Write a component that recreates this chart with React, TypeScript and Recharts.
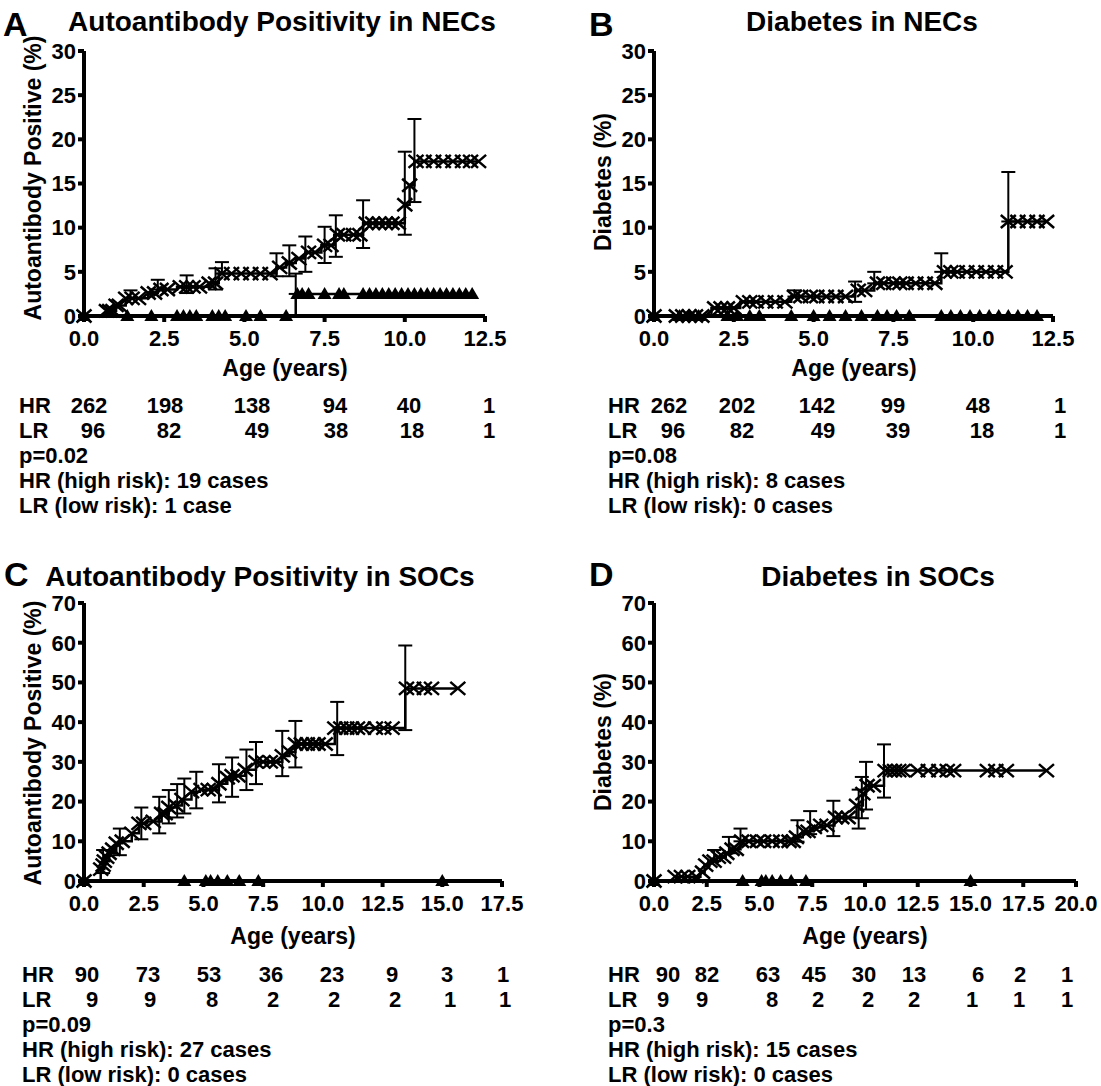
import React from 'react';
import { ComposedChart, Line, Scatter, XAxis, YAxis, ErrorBar } from 'recharts';

type P = [number, number];
type E = [number, number, number, number]; // x, y, lower bound, upper bound

// ---------- Panel A : Autoantibody Positivity in NECs ----------
const aXTicks = [0, 2.5, 5, 7.5, 10, 12.5];
const aYTicks = [0, 5, 10, 15, 20, 25, 30];
const aHrCurve: P[] = [[0,0],[0.7,0.6],[1.0,1.2],[1.3,2.0],[2.0,2.6],[2.3,3.0],[2.9,3.3],[3.9,3.7],[4.2,4.8],[6.0,5.5],[6.3,6.0],[6.6,6.5],[6.9,7.2],[7.4,8.0],[7.8,9.2],[8.7,10.5],[10.0,12.6],[10.15,14.8],[10.3,17.5],[12.3,17.5]];
const aHrMarks: P[] = [[0,0],[0.7,0.6],[0.8,0.6],[0.9,0.6],[1.0,1.2],[1.1,1.2],[1.3,2.0],[1.5,2.0],[1.7,2.0],[2.0,2.6],[2.2,2.6],[2.4,3.0],[2.6,3.0],[3.0,3.3],[3.2,3.3],[3.4,3.3],[3.6,3.3],[3.9,3.7],[4.1,3.7],[4.3,4.8],[4.6,4.8],[4.9,4.8],[5.2,4.8],[5.5,4.8],[5.8,4.8],[6.1,5.5],[6.4,6.0],[6.7,6.5],[7.0,7.2],[7.2,7.2],[7.5,8.0],[7.7,8.0],[7.9,9.2],[8.1,9.2],[8.4,9.2],[8.6,9.2],[8.8,10.5],[9.0,10.5],[9.2,10.5],[9.4,10.5],[9.6,10.5],[9.8,10.5],[10.0,12.6],[10.15,14.8],[10.35,17.5],[10.6,17.5],[10.9,17.5],[11.2,17.5],[11.5,17.5],[11.8,17.5],[12.05,17.5],[12.3,17.5]];
const aHrErr: E[] = [[1.45,2.0,2.0,2.9],[2.3,3.0,3.0,4.1],[3.2,3.3,2.6,4.6],[4.1,3.7,3.0,5.4],[4.3,4.8,4.8,6.1],[6.0,5.5,4.5,7.1],[6.4,6.0,4.5,8.0],[6.9,7.2,5.0,9.0],[7.5,8.0,6.0,10.1],[7.85,9.2,6.7,11.4],[8.7,10.5,7.7,13.1],[10.0,12.6,9.2,18.6],[10.3,17.5,12.9,22.3]];
const aLrCurve: P[] = [[0,0],[6.6,2.5],[12.1,2.5]];
const aLrMarks: P[] = [[0,0],[1.35,0],[2.1,0],[2.9,0],[3.1,0],[3.3,0],[3.5,0],[4.0,0],[4.2,0],[4.4,0],[5.05,0],[5.5,0],[6.3,0],[6.65,2.5],[6.8,2.5],[7.0,2.5],[7.5,2.5],[7.95,2.5],[8.1,2.5],[8.7,2.5],[8.9,2.5],[9.1,2.5],[9.3,2.5],[9.5,2.5],[9.7,2.5],[9.9,2.5],[10.1,2.5],[10.3,2.5],[10.5,2.5],[10.7,2.5],[10.9,2.5],[11.1,2.5],[11.3,2.5],[11.5,2.5],[11.7,2.5],[11.9,2.5],[12.1,2.5]];
const aLrErr: E[] = [[6.6,2.5,2.5,4.8]];
const aHrCounts = [262, 198, 138, 94, 40, 1];
const aLrCounts = [96, 82, 49, 38, 18, 1];

// ---------- Panel B : Diabetes in NECs ----------
const bXTicks = [0, 2.5, 5, 7.5, 10, 12.5];
const bYTicks = [0, 5, 10, 15, 20, 25, 30];
const bHrCurve: P[] = [[0,0],[1.8,0.9],[2.7,1.6],[4.3,2.2],[6.3,2.9],[6.9,3.7],[9.0,5.0],[11.1,10.7],[12.3,10.7]];
const bHrMarks: P[] = [[0,0],[0.7,0],[0.9,0],[1.1,0],[1.3,0],[1.5,0],[1.9,0.9],[2.1,0.9],[2.3,0.9],[2.5,0.9],[2.8,1.6],[3.0,1.6],[3.2,1.6],[3.5,1.6],[3.8,1.6],[4.1,1.6],[4.4,2.2],[4.6,2.2],[4.9,2.2],[5.1,2.2],[5.4,2.2],[5.7,2.2],[6.0,2.2],[6.4,2.9],[6.6,2.9],[7.0,3.7],[7.2,3.7],[7.5,3.7],[7.7,3.7],[7.9,3.7],[8.2,3.7],[8.5,3.7],[8.8,3.7],[9.1,5.0],[9.3,5.0],[9.5,5.0],[9.8,5.0],[10.1,5.0],[10.4,5.0],[10.7,5.0],[11.0,5.0],[11.1,10.7],[11.4,10.7],[11.7,10.7],[12.0,10.7],[12.3,10.7]];
const bHrErr: E[] = [[4.4,2.2,2.2,2.9],[6.3,2.9,1.6,3.9],[6.9,3.7,3.7,5.0],[9.0,5.0,5.0,7.1],[11.1,10.7,10.7,16.3]];
const bLrCurve: P[] = [[0,0],[12.1,0]];
const bLrMarks: P[] = [[0,0],[0.8,0],[1.1,0],[1.4,0],[2.3,0],[2.6,0],[3.0,0],[3.3,0],[4.3,0],[5.0,0],[5.5,0],[6.0,0],[6.5,0],[7.0,0],[7.3,0],[7.6,0],[8.0,0],[9.0,0],[9.3,0],[9.6,0],[9.9,0],[10.2,0],[10.5,0],[10.8,0],[11.1,0],[11.4,0],[11.7,0],[12.0,0]];
const bLrErr: E[] = [];
const bHrCounts = [262, 202, 142, 99, 48, 1];
const bLrCounts = [96, 82, 49, 39, 18, 1];

// ---------- Panel C : Autoantibody Positivity in SOCs ----------
const cXTicks = [0, 2.5, 5, 7.5, 10, 12.5, 15, 17.5];
const cYTicks = [0, 10, 20, 30, 40, 50, 60, 70];
const cHrCurve: P[] = [[0,0],[0.7,3],[0.85,5],[1.05,7],[1.35,9.5],[1.6,10],[2.0,12],[2.3,14.5],[2.65,15],[3.25,17],[3.55,18.5],[3.85,19],[4.1,20.5],[4.5,22.5],[4.85,23],[5.65,24.5],[6.0,26],[6.3,26.5],[6.75,28],[7.2,30],[8.3,31.5],[8.6,32.5],[8.85,34.5],[10.5,38.5],[13.45,48.5],[15.65,48.5]];
const cHrMarks: P[] = [[0,0],[0.7,3],[0.8,4],[0.85,5],[0.95,6],[1.05,7],[1.2,8],[1.35,9.5],[1.6,10],[2.0,12],[2.3,14.5],[2.5,14.5],[2.9,15],[3.25,17],[3.4,17],[3.55,18.5],[3.85,19],[4.1,20.5],[4.5,22.5],[4.9,23],[5.2,23],[5.45,23],[5.65,24.5],[6.0,26],[6.2,26.5],[6.45,26.5],[6.75,28],[7.2,30],[7.5,30],[7.8,30],[8.05,30],[8.3,31.5],[8.6,32.5],[8.85,34.5],[9.1,34.5],[9.35,34.5],[9.6,34.5],[9.8,34.5],[10.1,34.5],[10.5,38.5],[10.75,38.5],[11.0,38.5],[11.2,38.5],[11.45,38.5],[11.7,38.5],[12.2,38.5],[12.55,38.5],[12.9,38.5],[13.5,48.5],[13.8,48.5],[14.25,48.5],[14.55,48.5],[15.65,48.5]];
const cHrErr: E[] = [[0.8,4,2,7.8],[1.5,9.5,6.5,13.2],[2.4,14.5,10.5,18.5],[3.15,15,12,21.2],[3.55,18.5,14.5,22.9],[3.9,19,16,24.4],[4.2,20.5,17,25.8],[4.7,22.5,18.3,27.5],[5.65,24.5,19.8,29.4],[6.2,26,21.2,31.1],[6.8,28,22.9,33.1],[7.2,30,24.4,35],[8.3,31.5,26.4,37.8],[8.85,34.5,28.6,40.3],[10.6,38.5,31.7,45.1],[13.45,48.5,38,59.3]];
const cLrCurve: P[] = [[0,0],[15.0,0]];
const cLrMarks: P[] = [[0,0],[4.2,0],[5.1,0],[5.3,0],[5.6,0],[6.0,0],[6.5,0],[7.3,0],[15.0,0]];
const cLrErr: E[] = [];
const cHrCounts = [90, 73, 53, 36, 23, 9, 3, 1];
const cLrCounts = [9, 9, 8, 2, 2, 2, 1, 1];

// ---------- Panel D : Diabetes in SOCs ----------
const dXTicks = [0, 2.5, 5, 7.5, 10, 12.5, 15, 17.5, 20];
const dYTicks = [0, 10, 20, 30, 40, 50, 60, 70];
const dHrCurve: P[] = [[0,0],[1.05,1.1],[2.2,2.2],[2.4,4],[2.6,5],[3.0,6],[3.4,7],[3.7,8],[4.1,10],[6.7,11],[7.05,12.5],[7.55,13.5],[7.95,14],[8.55,16],[9.6,19],[9.9,22],[10.05,24],[10.9,27.8],[18.6,27.8]];
const dHrMarks: P[] = [[0,0],[1.0,1.1],[1.3,1.1],[1.6,1.1],[2.0,1.1],[2.3,2.2],[2.45,4],[2.65,5],[2.85,5],[3.05,6],[3.3,6],[3.45,7],[3.7,8],[3.9,8],[4.15,10],[4.5,10],[4.9,10],[5.2,10],[5.6,10],[6.0,10],[6.4,10],[6.6,10],[6.75,11],[7.1,12.5],[7.3,12.5],[7.6,13.5],[7.9,14],[8.2,14],[8.6,16],[8.9,16],[9.2,16],[9.6,19],[9.9,22],[10.1,24],[10.4,24],[10.95,27.8],[11.2,27.8],[11.4,27.8],[11.6,27.8],[11.8,27.8],[12.5,27.8],[13.0,27.8],[13.5,27.8],[13.9,27.8],[14.2,27.8],[15.8,27.8],[16.2,27.8],[16.7,27.8],[18.6,27.8]];
const dHrErr: E[] = [[2.85,5,5,7.8],[3.55,7,7,11.1],[4.1,10,10,13.2],[6.8,11,9.9,15.3],[7.4,12.5,11.8,17.6],[8.5,16,11.3,20.2],[9.7,19,13.2,23],[9.85,22,15.8,26.2],[10.05,24,18,30],[10.9,27.8,21,34.4]];
const dLrCurve: P[] = [[0,0],[15.0,0]];
const dLrMarks: P[] = [[0,0],[4.2,0],[5.1,0],[5.3,0],[5.6,0],[6.0,0],[6.5,0],[7.2,0],[15.0,0]];
const dLrErr: E[] = [];
const dHrCounts = [90, 82, 63, 45, 30, 13, 6, 2, 1];
const dLrCounts = [9, 9, 8, 2, 2, 2, 1, 1, 1];

const FONT = '"Liberation Sans", Arial, Helvetica, sans-serif';

const XMark = (p: any) => {
  const { cx, cy } = p;
  if (cx == null || cy == null) return <g />;
  const w = 7.5, h = 6.5;
  return <path d={`M${cx - w},${cy - h}L${cx + w},${cy + h}M${cx - w},${cy + h}L${cx + w},${cy - h}`} stroke="#000" strokeWidth={2.5} fill="none" />;
};
const TriMark = (p: any) => {
  const { cx, cy } = p;
  if (cx == null || cy == null) return <g />;
  return <path d={`M${cx},${cy - 7}L${cx + 7},${cy + 5}L${cx - 7},${cy + 5}Z`} fill="#000" />;
};
const NoMark = () => <g />;

const toPts = (a: P[]) => a.map(([x, y]) => ({ x, y }));
const toErr = (a: E[]) => a.map(([x, y, lo, hi]) => ({ x, y, err: [y - lo, hi - y] }));

interface Cfg {
  left: number; top: number; width: number; height: number;
  plot: { l: number; r: number; t: number; b: number };
  xMax: number; xTicks: number[]; yMax: number; yTicks: number[];
  hrCurve: P[]; hrMarks: P[]; hrErr: E[];
  lrCurve: P[]; lrMarks: P[]; lrErr: E[];
}

const tickStyle = { fill: '#000', fontSize: 22, fontWeight: 'bold' as const, fontFamily: FONT };

function Panel({ cfg }: { cfg: Cfg }) {
  const yw = 60, xh = 40;
  const { left, top, width, height, plot } = cfg;
  const margin = {
    left: plot.l - left - yw,
    right: left + width - plot.r,
    top: plot.t - top,
    bottom: top + height - plot.b - xh,
  };
  return (
    <div style={{ position: 'absolute', left, top }}>
      <ComposedChart width={width} height={height} margin={margin}>
        <XAxis type="number" dataKey="x" domain={[0, cfg.xMax]} ticks={cfg.xTicks} interval={0}
          tickFormatter={(v: number) => v.toFixed(1)} height={xh}
          axisLine={{ stroke: '#000', strokeWidth: 4 }} tickLine={{ stroke: '#000', strokeWidth: 4 }}
          tickSize={6} tickMargin={8} tick={tickStyle} />
        <YAxis type="number" dataKey="y" domain={[0, cfg.yMax]} ticks={cfg.yTicks} interval={0} width={yw}
          axisLine={{ stroke: '#000', strokeWidth: 4 }} tickLine={{ stroke: '#000', strokeWidth: 4 }}
          tickSize={6} tickMargin={2} tick={tickStyle} />
        <Line data={toPts(cfg.lrCurve)} dataKey="y" type="stepAfter" stroke="#000" strokeWidth={2.5} dot={false} isAnimationActive={false} />
        <Line data={toPts(cfg.hrCurve)} dataKey="y" type="stepAfter" stroke="#000" strokeWidth={2.5} dot={false} isAnimationActive={false} />
        {cfg.lrErr.length > 0 && (
          <Scatter data={toErr(cfg.lrErr)} dataKey="y" shape={NoMark} isAnimationActive={false}>
            <ErrorBar dataKey="err" direction="y" width={7} stroke="#000" strokeWidth={2} />
          </Scatter>
        )}
        <Scatter data={toErr(cfg.hrErr)} dataKey="y" shape={NoMark} isAnimationActive={false}>
          <ErrorBar dataKey="err" direction="y" width={7} stroke="#000" strokeWidth={2} />
        </Scatter>
        <Scatter data={toPts(cfg.lrMarks)} dataKey="y" shape={TriMark} isAnimationActive={false} />
        <Scatter data={toPts(cfg.hrMarks)} dataKey="y" shape={XMark} isAnimationActive={false} />
      </ComposedChart>
    </div>
  );
}

const cfgA: Cfg = { left: 0, top: 0, width: 550, height: 370, plot: { l: 84, r: 485, t: 51, b: 316 }, xMax: 12.5, xTicks: aXTicks, yMax: 30, yTicks: aYTicks, hrCurve: aHrCurve, hrMarks: aHrMarks, hrErr: aHrErr, lrCurve: aLrCurve, lrMarks: aLrMarks, lrErr: aLrErr };
const cfgB: Cfg = { left: 550, top: 0, width: 551, height: 370, plot: { l: 654, r: 1053, t: 51, b: 316 }, xMax: 12.5, xTicks: bXTicks, yMax: 30, yTicks: bYTicks, hrCurve: bHrCurve, hrMarks: bHrMarks, hrErr: bHrErr, lrCurve: bLrCurve, lrMarks: bLrMarks, lrErr: bLrErr };
const cfgC: Cfg = { left: 0, top: 560, width: 550, height: 380, plot: { l: 84, r: 502, t: 603, b: 881 }, xMax: 17.5, xTicks: cXTicks, yMax: 70, yTicks: cYTicks, hrCurve: cHrCurve, hrMarks: cHrMarks, hrErr: cHrErr, lrCurve: cLrCurve, lrMarks: cLrMarks, lrErr: cLrErr };
const cfgD: Cfg = { left: 550, top: 560, width: 551, height: 380, plot: { l: 654, r: 1076, t: 603, b: 881 }, xMax: 20, xTicks: dXTicks, yMax: 70, yTicks: dYTicks, hrCurve: dHrCurve, hrMarks: dHrMarks, hrErr: dHrErr, lrCurve: dLrCurve, lrMarks: dLrMarks, lrErr: dLrErr };

interface TextCfg {
  letter: string; letterX: number; letterY: number;
  title: string; titleX: number; titleY: number;
  yLabel: string; yLabelX: number; yLabelY: number;
  xLabelX: number; xLabelY: number;
  rowLabelX: number; rowY: number;
  hrCounts: number[]; hrX: number[]; lrCounts: number[]; lrX: number[];
  p: string; hrCases: string; lrCases: string;
}

const textA: TextCfg = { letter: 'A', letterX: 3, letterY: 36, title: 'Autoantibody Positivity in NECs', titleX: 282, titleY: 31, yLabel: 'Autoantibody Positive (%)', yLabelX: 33, yLabelY: 178, xLabelX: 285, xLabelY: 368, rowLabelX: 19, rowY: 405, hrCounts: aHrCounts, hrX: [89, 165, 252, 335, 409, 489], lrCounts: aLrCounts, lrX: [93, 169, 257, 336, 412, 489], p: 'p=0.02', hrCases: 'HR (high risk): 19 cases', lrCases: 'LR (low risk): 1 case' };
const textB: TextCfg = { letter: 'B', letterX: 589, letterY: 36, title: 'Diabetes in NECs', titleX: 862, titleY: 31, yLabel: 'Diabetes (%)', yLabelX: 603, yLabelY: 182, xLabelX: 854, xLabelY: 368, rowLabelX: 608, rowY: 405, hrCounts: bHrCounts, hrX: [669, 737, 817, 893, 978, 1060], lrCounts: bLrCounts, lrX: [673, 742, 823, 898, 982, 1060], p: 'p=0.08', hrCases: 'HR (high risk): 8 cases', lrCases: 'LR (low risk): 0 cases' };
const textC: TextCfg = { letter: 'C', letterX: 4, letterY: 586, title: 'Autoantibody Positivity in SOCs', titleX: 260, titleY: 586, yLabel: 'Autoantibody Positive (%)', yLabelX: 33, yLabelY: 743, xLabelX: 293, xLabelY: 936, rowLabelX: 22, rowY: 974, hrCounts: cHrCounts, hrX: [87, 148, 209, 271, 332, 392, 447, 503], lrCounts: cLrCounts, lrX: [92, 150, 212, 273, 334, 395, 450, 505], p: 'p=0.09', hrCases: 'HR (high risk): 27 cases', lrCases: 'LR (low risk): 0 cases' };
const textD: TextCfg = { letter: 'D', letterX: 589, letterY: 586, title: 'Diabetes in SOCs', titleX: 878, titleY: 586, yLabel: 'Diabetes (%)', yLabelX: 603, yLabelY: 742, xLabelX: 865, xLabelY: 936, rowLabelX: 608, rowY: 974, hrCounts: dHrCounts, hrX: [668, 707, 768, 814, 864, 914, 978, 1020, 1067], lrCounts: dLrCounts, lrX: [663, 702, 772, 818, 868, 914, 972, 1019, 1067], p: 'p=0.3', hrCases: 'HR (high risk): 15 cases', lrCases: 'LR (low risk): 0 cases' };

function PanelText({ t }: { t: TextCfg }) {
  const fs = 22, gap = 25, dy = fs * 0.36;
  return (
    <g fontFamily={FONT} fontWeight="bold" fill="#000">
      <text x={t.letterX} y={t.letterY} fontSize={34}>{t.letter}</text>
      <text x={t.titleX} y={t.titleY} fontSize={28} textAnchor="middle">{t.title}</text>
      <text x={t.yLabelX} y={t.yLabelY} dy="0.36em" fontSize={23} textAnchor="middle" transform={`rotate(-90 ${t.yLabelX} ${t.yLabelY})`}>{t.yLabel}</text>
      <text x={t.xLabelX} y={t.xLabelY} dy="0.36em" fontSize={23} textAnchor="middle">Age (years)</text>
      <text x={t.rowLabelX} y={t.rowY + dy} fontSize={fs}>HR</text>
      {t.hrCounts.map((n, i) => <text key={'h' + i} x={t.hrX[i]} y={t.rowY + dy} fontSize={fs} textAnchor="middle">{n}</text>)}
      <text x={t.rowLabelX} y={t.rowY + gap + dy} fontSize={fs}>LR</text>
      {t.lrCounts.map((n, i) => <text key={'l' + i} x={t.lrX[i]} y={t.rowY + gap + dy} fontSize={fs} textAnchor="middle">{n}</text>)}
      <text x={t.rowLabelX} y={t.rowY + 2 * gap + dy} fontSize={fs}>{t.p}</text>
      <text x={t.rowLabelX} y={t.rowY + 3 * gap + dy} fontSize={fs}>{t.hrCases}</text>
      <text x={t.rowLabelX} y={t.rowY + 4 * gap + dy} fontSize={fs}>{t.lrCases}</text>
    </g>
  );
}

export default function App() {
  return (
    <div style={{ position: 'absolute', left: 0, top: 0, width: 1101, height: 1086, background: '#fff', overflow: 'hidden' }}>
      <Panel cfg={cfgA} />
      <Panel cfg={cfgB} />
      <Panel cfg={cfgC} />
      <Panel cfg={cfgD} />
      <svg width={1101} height={1086} style={{ position: 'absolute', left: 0, top: 0, pointerEvents: 'none' }}>
        <PanelText t={textA} />
        <PanelText t={textB} />
        <PanelText t={textC} />
        <PanelText t={textD} />
      </svg>
    </div>
  );
}
